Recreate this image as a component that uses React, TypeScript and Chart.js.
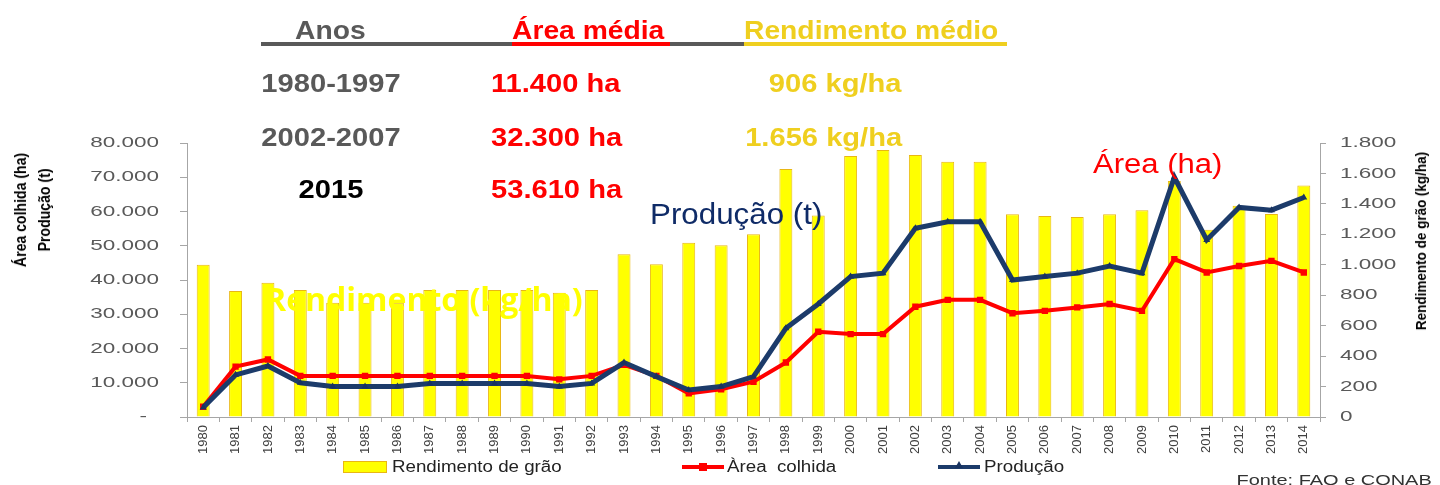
import React, { useEffect, useRef } from "react";
import { Chart, registerables } from "chart.js";
Chart.register(...registerables);

const years = [
  "1980", "1981", "1982", "1983", "1984", "1985", "1986", "1987", "1988", "1989",
  "1990", "1991", "1992", "1993", "1994", "1995", "1996", "1997", "1998", "1999",
  "2000", "2001", "2002", "2003", "2004", "2005", "2006", "2007", "2008", "2009",
  "2010", "2011", "2012", "2013", "2014",
];
const rendimento = [
  1000, 828, 882, 834, 750, 750, 750, 834, 834, 834,
  834, 817, 834, 1069, 1003, 1145, 1128, 1200, 1629, 1323,
  1715, 1754, 1721, 1677, 1677, 1332, 1321, 1314, 1332, 1358,
  1550, 1230, 1388, 1334, 1520,
];
const areaColhida = [
  3000, 14700, 16800, 12000, 12000, 12000, 12000, 12000, 12000, 12000,
  12000, 11000, 12000, 15200, 12000, 6900, 8100, 10300, 15900, 24900,
  24200, 24200, 32200, 34200, 34200, 30300, 31000, 32000, 33000, 31000,
  46100, 42200, 44100, 45600, 42200,
];
const producao = [
  2800, 12300, 14900, 10000, 8900, 8900, 8900, 9800, 9800, 9800,
  9800, 8900, 9800, 15900, 11800, 7900, 8900, 11800, 25900, 33000,
  41000, 42000, 55100, 57000, 57000, 40000, 41000, 42000, 44100, 42000,
  70000, 51700, 61200, 60400, 64100,
];

const periodos = ["1980-1997", "2002-2007", "2015"];
const areaMedia = ["11.400 ha", "32.300 ha", "53.610 ha"];
const rendMedio = ["906 kg/ha", "1.656 kg/ha", ""];
const legendLabels = ["Rendimento de grão", "Àrea  colhida", "Produção"];

const YELLOW = "#ffff00";
const BAR_BORDER = "#e9b714";
const RED = "#ff0000";
const NAVY = "#1c3b6a";
const GOLD = "#efcf1f";
const GRAY = "#595959";
const AXIS = "#a6a6a6";
const SANS = '"Liberation Sans", Arial, sans-serif';

const fmt = (v: number) => String(v).replace(/\B(?=(\d{3})+(?!\d))/g, ".");

const tickLabels = {
  id: "stretchedTickLabels",
  afterDraw(chart: any) {
    const ctx = chart.ctx;
    const yl = chart.scales.y;
    const yr = chart.scales.y1;
    ctx.save();
    ctx.font = "15px " + SANS;
    ctx.fillStyle = GRAY;
    ctx.textBaseline = "middle";
    yl.ticks.forEach((t: any) => {
      const py = yl.getPixelForValue(t.value);
      ctx.save();
      ctx.translate(t.value === 0 ? yl.right - 40 : yl.right - 28, py);
      ctx.scale(1.5, 1);
      ctx.textAlign = "right";
      ctx.fillText(t.value === 0 ? "-" : fmt(t.value), 0, 0);
      ctx.restore();
    });
    yr.ticks.forEach((t: any) => {
      const py = yr.getPixelForValue(t.value);
      ctx.save();
      ctx.translate(yr.left + 20, py);
      ctx.scale(1.5, 1);
      ctx.textAlign = "left";
      ctx.fillText(fmt(t.value), 0, 0);
      ctx.restore();
    });
    ctx.restore();
  },
};

type TProps = {
  x: number;
  base: number;
  size: number;
  color: string;
  bold?: boolean;
  align?: "left" | "center" | "right";
  sx?: number;
  family?: string;
  asc?: number;
  children: React.ReactNode;
};

function T({ x, base, size, color, bold, align = "left", sx = 1, family = SANS, asc = 0.8465, children }: TProps) {
  const top = base - asc * size;
  const style: React.CSSProperties = {
    position: "absolute",
    top,
    fontSize: size,
    lineHeight: 1,
    color,
    fontWeight: bold ? 700 : 400,
    fontFamily: family,
    whiteSpace: "pre",
  };
  if (align === "left") {
    style.left = x;
    style.transform = `scaleX(${sx})`;
    style.transformOrigin = "left center";
  } else if (align === "right") {
    style.right = 1440 - x;
    style.transform = `scaleX(${sx})`;
    style.transformOrigin = "right center";
  } else {
    style.left = x;
    style.transform = `translateX(-50%) scaleX(${sx})`;
    style.transformOrigin = "center center";
  }
  return <div style={style}>{children}</div>;
}

function Rot({ cx, cy, size, sx, lineHeight, children }: { cx: number; cy: number; size: number; sx: number; lineHeight: number; children: React.ReactNode }) {
  return (
    <div
      style={{
        position: "absolute",
        left: cx,
        top: cy,
        transform: `translate(-50%, -50%) rotate(-90deg) scale(${sx}, 1)`,
        fontFamily: SANS,
        fontWeight: 700,
        fontSize: size,
        lineHeight: `${lineHeight}px`,
        color: "#000",
        textAlign: "center",
        whiteSpace: "nowrap",
      }}
    >
      {children}
    </div>
  );
}

export default function App() {
  const ref = useRef<HTMLCanvasElement>(null);
  useEffect(() => {
    Chart.defaults.font.family = SANS;
    const chart = new Chart(ref.current as HTMLCanvasElement, {
      type: "bar",
      data: {
        labels: years,
        datasets: [
          {
            type: "bar",
            label: legendLabels[0],
            data: rendimento,
            yAxisID: "y1",
            backgroundColor: YELLOW,
            borderColor: BAR_BORDER,
            borderWidth: 1,
            barPercentage: 0.4,
            categoryPercentage: 1,
            order: 3,
          },
          {
            type: "line",
            label: legendLabels[1],
            data: areaColhida,
            yAxisID: "y",
            borderColor: RED,
            backgroundColor: RED,
            borderWidth: 4,
            pointStyle: "rect",
            pointRadius: 4.5,
            pointBorderWidth: 0,
            tension: 0,
            order: 2,
          },
          {
            type: "line",
            label: legendLabels[2],
            data: producao,
            yAxisID: "y",
            borderColor: NAVY,
            backgroundColor: "#183360",
            borderWidth: 5,
            pointStyle: "triangle",
            pointRadius: 4,
            pointBorderWidth: 0,
            tension: 0,
            order: 1,
          },
        ] as any,
      },
      options: {
        responsive: false,
        devicePixelRatio: 1,
        animation: false,
        layout: { padding: { top: 143, bottom: 28, left: 0, right: 0 } },
        plugins: {
          legend: { display: false },
          tooltip: { enabled: false },
          title: { display: false },
        },
        scales: {
          x: {
            offset: true,
            grid: {
              display: true,
              offset: true,
              drawOnChartArea: false,
              drawTicks: true,
              tickLength: 5,
              color: AXIS,
            },
            border: { display: true, color: AXIS, width: 1 },
            ticks: {
              autoSkip: false,
              minRotation: 90,
              maxRotation: 90,
              padding: 3,
              color: "#404040",
              font: { family: SANS, size: 13 },
            },
            afterFit: (s: any) => {
              s.height = 40;
            },
          },
          y: {
            position: "left",
            min: 0,
            max: 80000,
            ticks: { stepSize: 10000, display: false },
            grid: { drawOnChartArea: false, drawTicks: true, tickLength: 7, color: AXIS },
            border: { display: true, color: AXIS, width: 1 },
            afterFit: (s: any) => {
              s.width = 187;
            },
          },
          y1: {
            position: "right",
            min: 0,
            max: 1800,
            ticks: { stepSize: 200, display: false },
            grid: { drawOnChartArea: false, drawTicks: true, tickLength: 6, color: AXIS },
            border: { display: true, color: AXIS, width: 1 },
            afterFit: (s: any) => {
              s.width = 120;
            },
          },
        },
      } as any,
      plugins: [tickLabels],
    });
    return () => chart.destroy();
  }, []);

  const rowBase = [92, 146, 198];
  const rowColors = [GRAY, GRAY, "#000000"];

  return (
    <div
      style={{
        position: "absolute",
        left: 0,
        top: 0,
        width: 1440,
        height: 485,
        background: "#ffffff",
        overflow: "hidden",
        fontFamily: SANS,
      }}
    >
      <canvas ref={ref} width={1440} height={485} style={{ position: "absolute", left: 0, top: 0 }} />

      {/* header table */}
      <div style={{ position: "absolute", left: 261, top: 42, width: 483, height: 4, background: GRAY }} />
      <div style={{ position: "absolute", left: 512, top: 42, width: 158, height: 4, background: RED }} />
      <div style={{ position: "absolute", left: 744, top: 42, width: 263, height: 4, background: GOLD }} />
      <T x={295} base={39} size={25} color={GRAY} bold sx={1.13}>Anos</T>
      <T x={512} base={39} size={25} color={RED} bold sx={1.13}>Área média</T>
      <T x={744} base={39} size={25} color={GOLD} bold sx={1.13}>Rendimento médio</T>
      {periodos.map((p, i) => (
        <T key={"p" + i} x={331} base={rowBase[i]} size={26} color={rowColors[i]} bold align="center" sx={1.12}>
          {p}
        </T>
      ))}
      {areaMedia.map((a, i) => (
        <T key={"a" + i} x={491} base={rowBase[i]} size={26} color={RED} bold sx={1.12}>
          {a}
        </T>
      ))}
      {rendMedio.map((r, i) =>
        r ? (
          <T key={"r" + i} x={902} base={rowBase[i]} size={26} color={GOLD} bold align="right" sx={1.12}>
            {r}
          </T>
        ) : null
      )}

      {/* series annotations */}
      <T x={650} base={225} size={29} color="#0f2b67" sx={1.08}>Produção (t)</T>
      <T x={1093} base={174} size={27} color={RED} sx={1.15}>Área (ha)</T>
      <T x={265} base={311} size={32} color={YELLOW} bold family='"Open Sans", sans-serif' asc={0.888}>
        Rendimento (kg/ha)
      </T>

      {/* axis titles */}
      <Rot cx={33} cy={210} size={16} sx={0.88} lineHeight={24}>
        Área colhida (ha)
        <br />
        Produção (t)
      </Rot>
      <Rot cx={1421} cy={241} size={15.5} sx={0.87} lineHeight={18}>
        Rendimento de grão (kg/ha)
      </Rot>

      {/* legend */}
      <div style={{ position: "absolute", left: 343, top: 461, width: 44, height: 12, background: YELLOW, border: `1px solid ${BAR_BORDER}`, boxSizing: "border-box" }} />
      <T x={392} base={473} size={16} color="#222" sx={1.17}>{legendLabels[0]}</T>
      <div style={{ position: "absolute", left: 682, top: 465, width: 42, height: 4, background: RED }} />
      <div style={{ position: "absolute", left: 699, top: 463, width: 8, height: 8, background: RED }} />
      <T x={727} base={473} size={16} color="#222" sx={1.17}>{legendLabels[1]}</T>
      <div style={{ position: "absolute", left: 938, top: 465, width: 42, height: 4, background: NAVY }} />
      <div
        style={{
          position: "absolute",
          left: 955,
          top: 461,
          width: 0,
          height: 0,
          borderLeft: "4px solid transparent",
          borderRight: "4px solid transparent",
          borderBottom: "7px solid #183360",
        }}
      />
      <T x={984} base={473} size={16} color="#222" sx={1.17}>{legendLabels[2]}</T>

      <T x={1432} base={485} size={15} color="#333" align="right" sx={1.33}>Fonte: FAO e CONAB</T>
    </div>
  );
}
